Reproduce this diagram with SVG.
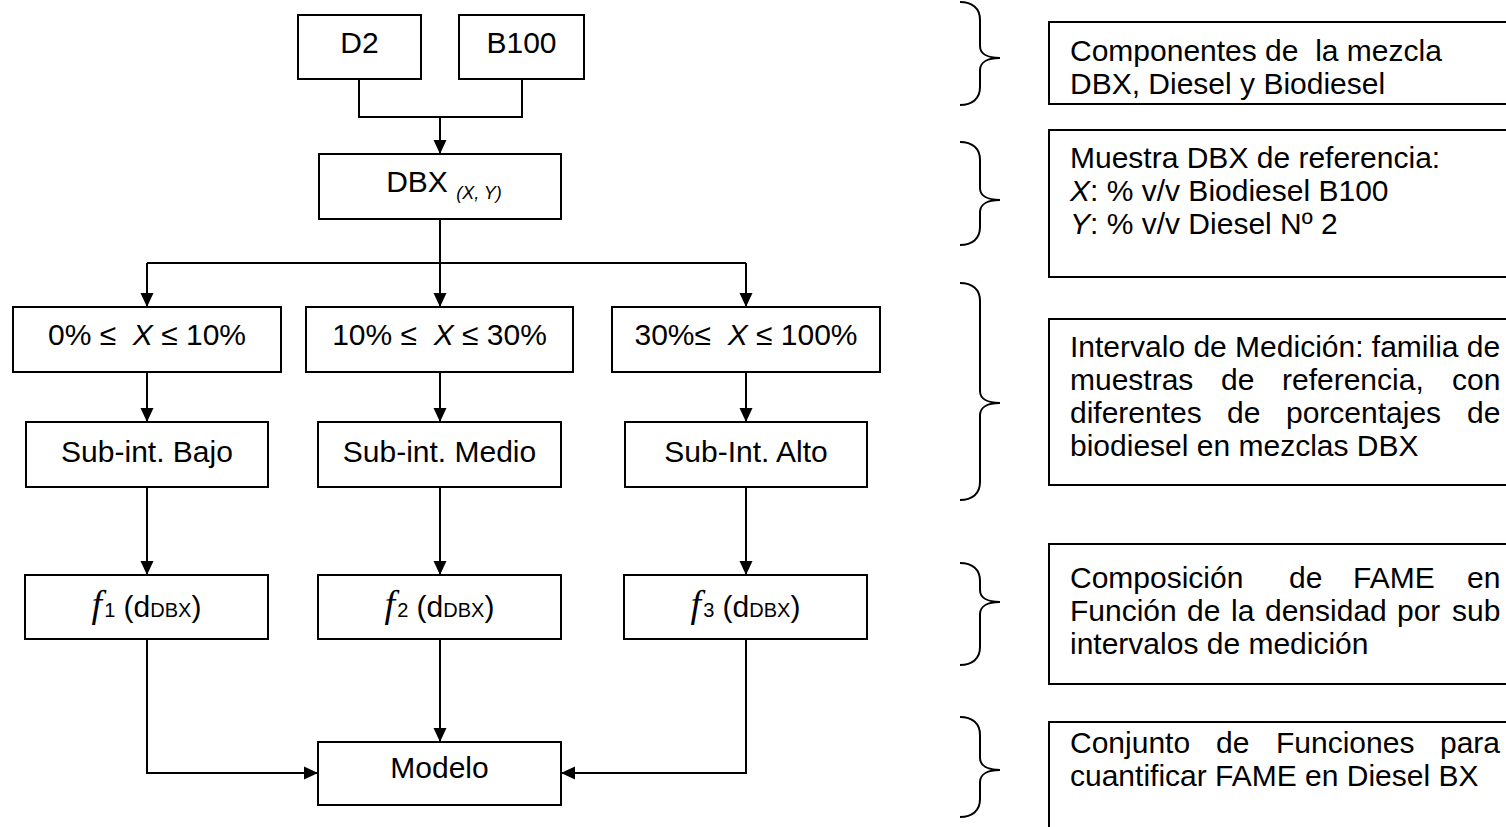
<svg xmlns="http://www.w3.org/2000/svg" width="1506" height="827" viewBox="0 0 1506 827">
  <defs>
    <marker id="arrow" markerUnits="userSpaceOnUse" markerWidth="14" markerHeight="14" viewBox="0 0 14 14" refX="14" refY="7" orient="auto">
      <path d="M0,0.5 L14,7 L0,13.5 Z" fill="#000"/>
    </marker>
    <style>
      .box { fill: #fff; stroke: #000; stroke-width: 2; }
      .note { fill: #fff; stroke: #000; stroke-width: 2; }
      .lbl { font-family: "Liberation Sans", Arial, sans-serif; font-size: 30px; fill: #000; text-anchor: middle; }
      .txt { font-family: "Liberation Sans", Arial, sans-serif; font-size: 30px; fill: #000; }
      .it { font-style: italic; }
      .fn { font-family: "Liberation Serif", "Times New Roman", serif; font-style: italic; font-size: 38px; }
      .sub { font-size: 20px; }
      .wire { fill: none; stroke: #000; stroke-width: 2; }
      .brace { fill: none; stroke: #000; stroke-width: 2; }
    </style>
  </defs>

  <rect width="1506" height="827" fill="#fff"/>

  <!-- connectors -->
  <g id="connectors">
    <path class="wire" d="M359,79 V117 H522 V79"/>
    <path class="wire" d="M440,117 V154" marker-end="url(#arrow)"/>
    <path class="wire" d="M440,219 V263"/>
    <path class="wire" d="M147,263 H746"/>
    <path class="wire" d="M147,263 V307" marker-end="url(#arrow)"/>
    <path class="wire" d="M440,263 V307" marker-end="url(#arrow)"/>
    <path class="wire" d="M746,263 V307" marker-end="url(#arrow)"/>
    <path class="wire" d="M147,372 V422" marker-end="url(#arrow)"/>
    <path class="wire" d="M440,372 V422" marker-end="url(#arrow)"/>
    <path class="wire" d="M746,372 V422" marker-end="url(#arrow)"/>
    <path class="wire" d="M147,487 V575" marker-end="url(#arrow)"/>
    <path class="wire" d="M440,487 V575" marker-end="url(#arrow)"/>
    <path class="wire" d="M746,487 V575" marker-end="url(#arrow)"/>
    <path class="wire" d="M147,639 V773 H318" marker-end="url(#arrow)"/>
    <path class="wire" d="M440,639 V742" marker-end="url(#arrow)"/>
    <path class="wire" d="M746,639 V773 H561" marker-end="url(#arrow)"/>
  </g>

  <!-- flow nodes -->
  <g id="d2">
    <rect class="box" x="298" y="15" width="123" height="64"/>
    <text class="lbl" x="359.5" y="53">D2</text>
  </g>
  <g id="b100">
    <rect class="box" x="459" y="15" width="125" height="64"/>
    <text class="lbl" x="521.5" y="53">B100</text>
  </g>
  <g id="dbx">
    <rect class="box" x="319" y="154" width="242" height="65"/>
    <text class="lbl" x="444" y="192">DBX <tspan class="it" font-size="18px" dy="7">(X, Y)</tspan></text>
  </g>

  <g id="range-low">
    <rect class="box" x="13" y="307" width="268" height="65"/>
    <text class="lbl" x="147" y="345" xml:space="preserve">0% ≤  <tspan class="it">X</tspan> ≤ 10%</text>
  </g>
  <g id="range-mid">
    <rect class="box" x="306" y="307" width="267" height="65"/>
    <text class="lbl" x="439.5" y="345" xml:space="preserve">10% ≤  <tspan class="it">X</tspan> ≤ 30%</text>
  </g>
  <g id="range-high">
    <rect class="box" x="612" y="307" width="268" height="65"/>
    <text class="lbl" x="746" y="345" xml:space="preserve">30%≤  <tspan class="it">X</tspan> ≤ 100%</text>
  </g>

  <g id="sub-low">
    <rect class="box" x="26" y="422" width="242" height="65"/>
    <text class="lbl" x="147" y="462">Sub-int. Bajo</text>
  </g>
  <g id="sub-mid">
    <rect class="box" x="318" y="422" width="243" height="65"/>
    <text class="lbl" x="439.5" y="462">Sub-int. Medio</text>
  </g>
  <g id="sub-high">
    <rect class="box" x="625" y="422" width="242" height="65"/>
    <text class="lbl" x="746" y="462">Sub-Int. Alto</text>
  </g>

  <g id="f1">
    <rect class="box" x="25" y="575" width="243" height="64"/>
    <text class="lbl" x="146.5" y="617"><tspan class="fn">f</tspan><tspan class="sub" dx="2">1</tspan> (d<tspan class="sub">DBX</tspan>)</text>
  </g>
  <g id="f2">
    <rect class="box" x="318" y="575" width="243" height="64"/>
    <text class="lbl" x="439.5" y="617"><tspan class="fn">f</tspan><tspan class="sub" dx="2">2</tspan> (d<tspan class="sub">DBX</tspan>)</text>
  </g>
  <g id="f3">
    <rect class="box" x="624" y="575" width="243" height="64"/>
    <text class="lbl" x="745.5" y="617"><tspan class="fn">f</tspan><tspan class="sub" dx="2">3</tspan> (d<tspan class="sub">DBX</tspan>)</text>
  </g>

  <g id="modelo">
    <rect class="box" x="318" y="742" width="243" height="63"/>
    <text class="lbl" x="439.5" y="778">Modelo</text>
  </g>

  <!-- braces -->
  <g id="braces">
    <path class="brace" d="M960,2 C972,2 980,8 980,20 L980,46 C980,54 988,58 1000,58 C988,58 980,62 980,70 L980,87 C980,99 972,105 960,105"/>
    <path class="brace" d="M960,142 C972,142 980,148 980,160 L980,188 C980,196 988,200 1000,200 C988,200 980,204 980,212 L980,227 C980,239 972,245 960,245"/>
    <path class="brace" d="M960,283 C972,283 980,289 980,301 L980,391 C980,399 988,403 1000,403 C988,403 980,407 980,415 L980,482 C980,494 972,500 960,500"/>
    <path class="brace" d="M960,563 C972,563 980,569 980,581 L980,590 C980,598 988,602 1000,602 C988,602 980,606 980,614 L980,647 C980,659 972,665 960,665"/>
    <path class="brace" d="M960,717 C972,717 980,723 980,735 L980,758 C980,766 988,770 1000,770 C988,770 980,774 980,782 L980,799 C980,811 972,817 960,817"/>
  </g>

  <!-- explanatory notes -->
  <g id="note-components">
    <rect class="note" x="1049" y="22" width="470" height="82"/>
    <text class="txt" x="1070" y="61" xml:space="preserve">Componentes de  la mezcla</text>
    <text class="txt" x="1070" y="94">DBX, Diesel y Biodiesel</text>
  </g>
  <g id="note-sample">
    <rect class="note" x="1049" y="130" width="470" height="147"/>
    <text class="txt" x="1070" y="168">Muestra DBX de referencia:</text>
    <text class="txt" x="1070" y="201"><tspan class="it">X</tspan>: % v/v Biodiesel B100</text>
    <text class="txt" x="1070" y="234"><tspan class="it">Y</tspan>: % v/v Diesel Nº 2</text>
  </g>
  <g id="note-interval">
    <rect class="note" x="1049" y="319" width="470" height="166"/>
    <text class="txt" x="1070" y="357">Intervalo de Medición: familia de</text>
    <text class="txt" y="390"><tspan x="1070">muestras</tspan><tspan x="1221">de</tspan><tspan x="1282">referencia,</tspan><tspan x="1452">con</tspan></text>
    <text class="txt" y="423"><tspan x="1070">diferentes</tspan><tspan x="1227">de</tspan><tspan x="1286">porcentajes</tspan><tspan x="1467">de</tspan></text>
    <text class="txt" x="1070" y="456">biodiesel en mezclas DBX</text>
  </g>
  <g id="note-composition">
    <rect class="note" x="1049" y="544" width="470" height="140"/>
    <text class="txt" y="588"><tspan x="1070">Composición</tspan><tspan x="1289">de</tspan><tspan x="1353">FAME</tspan><tspan x="1467">en</tspan></text>
    <text class="txt" y="621"><tspan x="1070">Función</tspan><tspan x="1187">de</tspan><tspan x="1231">la</tspan><tspan x="1265">densidad</tspan><tspan x="1397">por</tspan><tspan x="1452">sub</tspan></text>
    <text class="txt" x="1070" y="654">intervalos de medición</text>
  </g>
  <g id="note-model">
    <rect class="note" x="1049" y="722" width="470" height="130"/>
    <text class="txt" y="753"><tspan x="1070">Conjunto</tspan><tspan x="1216">de</tspan><tspan x="1276">Funciones</tspan><tspan x="1440">para</tspan></text>
    <text class="txt" x="1070" y="786">cuantificar FAME en Diesel BX</text>
  </g>
</svg>
